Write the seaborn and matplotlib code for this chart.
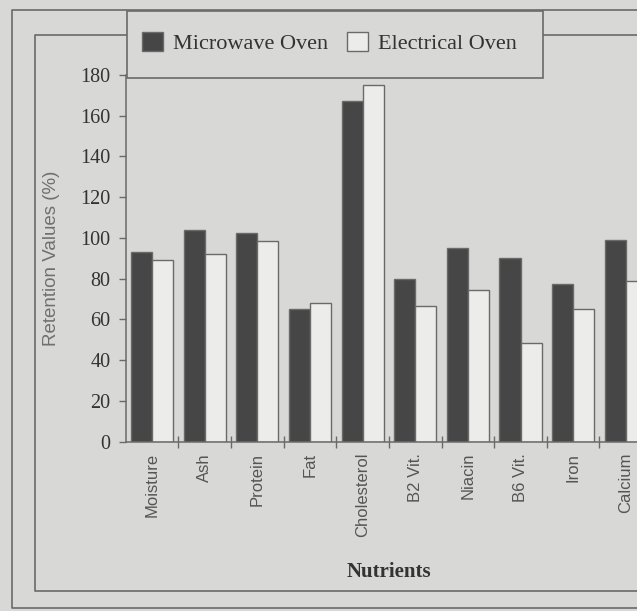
import matplotlib
matplotlib.use("Agg")
import matplotlib.pyplot as plt
from matplotlib.lines import Line2D
from matplotlib.patches import Rectangle
import pandas as pd
import seaborn as sns

# Nutrient retention after cooking (%)
nutrients = ["Moisture", "Ash", "Protein", "Fat", "Cholesterol",
             "B2 Vit.", "Niacin", "B6 Vit.", "Iron", "Calcium"]
microwave = [93, 104, 102.5, 65, 167, 80, 95, 90, 77.5, 99]
electrical = [89, 92, 98.5, 68, 175, 66.5, 74.5, 48.5, 65, 79]
series = ["Microwave Oven", "Electrical Oven"]
yticks = [0, 20, 40, 60, 80, 100, 120, 140, 160, 180]

df = pd.DataFrame({
    "Nutrient": nutrients * 2,
    "Oven": [series[0]] * len(nutrients) + [series[1]] * len(nutrients),
    "Retention": microwave + electrical,
})

BG = "#d8d8d6"
LINE = "#6a6a6a"
DARK = "#464646"
LIGHT = "#ececea"
W, H = 637, 611

fig = plt.figure(figsize=(W / 100, H / 100), dpi=100, facecolor=BG)


def fx(px):
    return px / W


def fy(py):
    return 1 - py / H


# page frames (outer and inner)
for x0, y0, y1 in [(12, 10, 608), (35, 35, 591)]:
    fig.add_artist(Line2D([fx(W + 5), fx(x0), fx(x0), fx(W + 5)],
                          [fy(y0), fy(y0), fy(y1), fy(y1)],
                          color=LINE, lw=1.2, zorder=1))

ax_left, ax_width = 125.8, 526.3
ax = fig.add_axes([fx(ax_left), fy(441.7), ax_width / W, (441.7 - 75) / H])
ax.set_facecolor(BG)

sns.barplot(data=df, x="Nutrient", y="Retention", hue="Oven",
            hue_order=series, order=nutrients,
            palette={series[0]: DARK, series[1]: LIGHT},
            edgecolor=LINE, linewidth=1.0, width=0.8, gap=0,
            errorbar=None, ax=ax)

ax.set_xlim(-0.5, len(nutrients) - 0.5)
ax.set_ylim(0, 180)
ax.set_yticks(yticks)
ax.set_yticklabels([str(v) for v in yticks],
                   fontfamily="Liberation Serif", fontsize=14.5, color="#333333")

# category separators on the x axis; names sit under each group
ax.set_xticks([i + 0.5 for i in range(len(nutrients) - 1)])
ax.set_xticklabels([])
ax.tick_params(axis="x", direction="inout", length=9, width=1, color=LINE)
ax.tick_params(axis="y", direction="out", length=5, width=1, color=LINE, pad=6)
for i, name in enumerate(nutrients):
    ax.text(i, -5.5, name, rotation=90, ha="center", va="top",
            fontfamily="Liberation Sans", fontsize=12, color="#555555",
            clip_on=False)

for side in ["top", "right"]:
    ax.spines[side].set_visible(False)
for side in ["left", "bottom"]:
    ax.spines[side].set_color(LINE)
    ax.spines[side].set_linewidth(1.1)

ax.set_xlabel("")
ax.set_ylabel("Retention Values (%)", fontfamily="Liberation Sans",
              fontsize=13.5, color="#707070")
ax.yaxis.set_label_coords(-(ax_left - 60) / ax_width, 0.5)

fig.text(fx(389), fy(572), "Nutrients", ha="center", va="center",
         fontfamily="Liberation Serif", fontweight="bold", fontsize=15,
         color="#333333")

# legend box across the top frame line
handles, labels = ax.get_legend_handles_labels()
ax.get_legend().remove()
fig.add_artist(Rectangle((fx(127), fy(78)), fx(543) - fx(127), fy(11) - fy(78),
                         transform=fig.transFigure, facecolor=BG,
                         edgecolor=LINE, lw=1.2, zorder=2))
leg = fig.legend(handles, labels, loc="center left",
                 bbox_to_anchor=(fx(131), fy(43)), ncol=2, frameon=False,
                 borderpad=0, handlelength=0.95, handleheight=0.95,
                 handletextpad=0.45, columnspacing=0.85,
                 prop={"family": "Liberation Serif", "size": 16})
leg.set_zorder(3)
for t in leg.get_texts():
    t.set_color("#333333")

fig.savefig("out.png", dpi=100, facecolor=BG)
